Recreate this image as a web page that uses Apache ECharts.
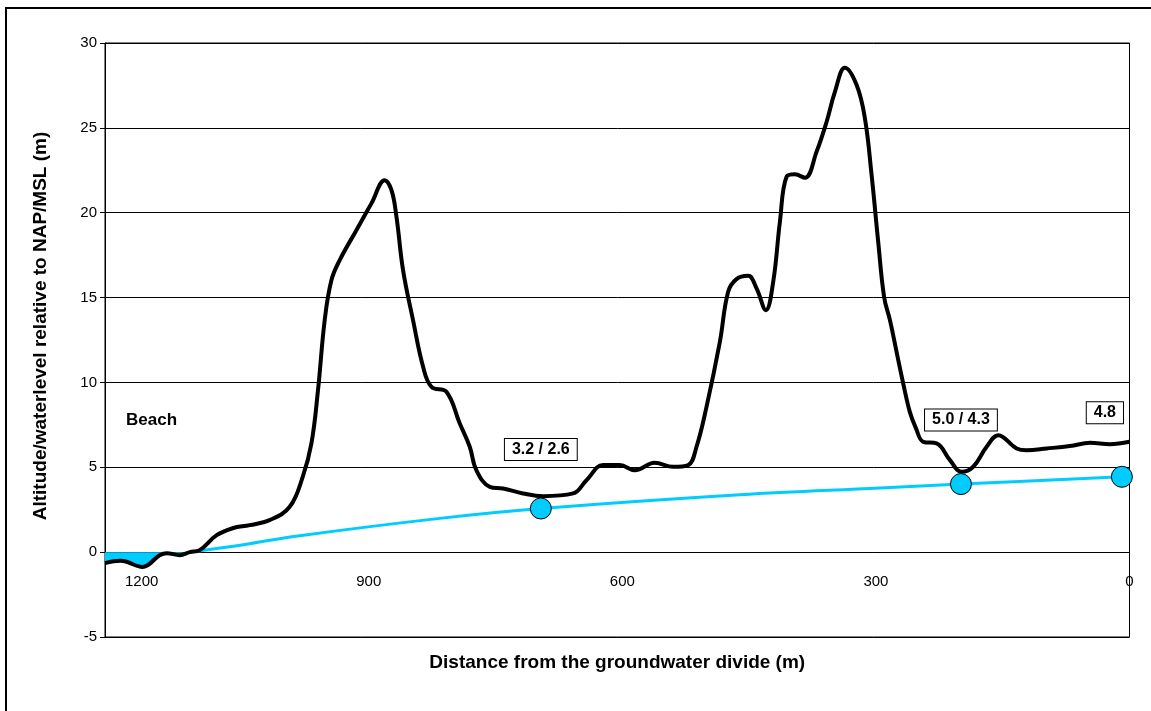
<!DOCTYPE html>
<html>
<head>
<meta charset="utf-8">
<script src="https://cdn.jsdelivr.net/npm/echarts@6/dist/echarts.min.js"></script>
<style>
html,body{margin:0;padding:0;background:#fff;}
#chart{width:1151px;height:711px;}
</style>
</head>
<body>
<div id="chart"></div>
<script>
// Terrain profile: distance from groundwater divide (m) and altitude (m NAP)
const terrainX = [1212,1193.5,1167.5,1147.3,1139,1123.7,1111.8,1100,1079.9,1061,1040.8,1017.2,993.5,978.1,967.8,960,952.1,944.1,934.3,914.6,896.8,881.1,873.1,867.2,859.4,847.6,835.7,825.8,808.1,792.3,780.5,772.7,756.8,741.1,717.4,693.7,658.2,642.4,622.7,603,585.2,561.5,539.9,522.1,512.2,500.4,484.6,474.8,464.9,451.1,441.2,430.2,421.5,413.6,405.7,395.9,384,370.2,358.3,348.5,336.7,322.8,313,305.1,297.3,290.2,283.4,275.5,267.7,259.8,252.7,244,228.2,212.4,198.6,184.9,169,155.3,133.5,121.7,98,70.4,46.7,23.1,0];
const terrainY = [-0.65,-0.51,-0.87,-0.18,-0.06,-0.18,0,0.12,1.0,1.41,1.59,1.89,2.67,4.44,6.41,9.55,13.67,16.03,17.21,18.97,20.55,21.92,21.33,19.76,16.62,13.67,10.92,9.74,9.45,7.58,6.21,4.83,3.85,3.75,3.46,3.30,3.46,4.24,5.13,5.13,4.83,5.26,5.03,5.13,6.21,8.56,12.39,15.34,16.09,16.28,15.54,14.26,15.93,19.46,22.12,22.26,22.06,23.59,25.36,27.12,28.54,27.52,25.56,22.22,18.29,15.0,13.67,11.79,9.94,8.25,7.31,6.50,6.41,5.42,4.73,5.03,6.21,6.89,6.11,6.01,6.11,6.25,6.44,6.36,6.5];
// Sea (below sea level) part of the profile
const seaX = [1212,1193.5,1167.5,1147.3,1139,1123.7,1111.8];
const seaY = [-0.65,-0.51,-0.87,-0.18,-0.06,-0.18,0];
// Groundwater level
const waterX = [1111.8,1040.8,981.7,816,696.4,461,295.3,199.4,9];
const waterY = [0,0.5,0.97,1.99,2.57,3.38,3.78,4.01,4.44];
// Measured points and their annotations
const pointX = [696.4,199.4,9];
const pointY = [2.57,4.01,4.44];
const pointLabels = ['3.2 / 2.6','5.0 / 4.3','4.8'];
const xTicks = [0,300,600,900,1200];
const yTicks = [-5,0,5,10,15,20,25,30];

const FONT = 'Liberation Sans, Arial, sans-serif';
const CYAN = '#00CCFF';
const LABEL_OFFSETS = [[0,-59],[0,-64],[-17,-64]];

const zip = (a,b) => a.map((v,i)=>[v,b[i]]);

const chart = echarts.init(document.getElementById('chart'), null, {renderer:'canvas'});
chart.setOption({
  animation:false,
  backgroundColor:'#fff',
  grid:{left:105,right:21.5,top:43,bottom:74,containLabel:false,outerBoundsMode:'none',
    show:true,borderColor:'#000',borderWidth:1,backgroundColor:'transparent'},
  graphic:[
    {type:'rect',shape:{x:6,y:8,width:1170,height:730},style:{fill:'none',stroke:'#000',lineWidth:2},silent:true,z:-1},
    {type:'text',left:126,top:412,style:{text:'Beach',font:'bold 17px '+FONT,fill:'#000'}}
  ],
  xAxis:{
    type:'value',inverse:true,min:0,max:1212,interval:300,
    offset:-84.9,
    axisLine:{onZero:false,lineStyle:{color:'#000',width:1}},
    axisTick:{show:false},
    splitLine:{show:false},
    axisLabel:{
      fontSize:15,color:'#000',fontFamily:FONT,margin:22,showMaxLabel:false,
      formatter:v=> xTicks.includes(v) ? (v===1200 ? '{s|1200}' : String(v)) : '',
      rich:{s:{fontSize:15,fontFamily:FONT,color:'#000',padding:[0,0,0,53]}}
    },
    name:'Distance from the groundwater divide (m)',
    nameLocation:'middle',nameGap:101,
    nameTextStyle:{fontSize:19,fontWeight:'bold',color:'#000',fontFamily:FONT}
  },
  yAxis:{
    type:'value',min:-5,max:30,interval:5,
    axisLine:{show:true,onZero:false,lineStyle:{color:'#000',width:1}},
    axisTick:{show:true,length:5,lineStyle:{color:'#000'}},
    splitLine:{show:true,lineStyle:{color:'#000',width:1}},
    axisLabel:{fontSize:15,color:'#000',fontFamily:FONT,margin:8,
      formatter:v=> yTicks.includes(v)? String(v):''},
    name:'Altitude/waterlevel relative to NAP/MSL (m)',
    nameLocation:'middle',nameGap:55,
    nameTextStyle:{fontSize:19,fontWeight:'bold',color:'#000',fontFamily:FONT,padding:[0,0,0,28]}
  },
  series:[
    {type:'line',name:'sea',data:zip(seaX,seaY),smooth:0.4,symbol:'none',
      lineStyle:{width:0},areaStyle:{color:CYAN,opacity:1,origin:0},z:2},
    {type:'line',name:'groundwater',data:zip(waterX,waterY),smooth:0.4,symbol:'none',
      lineStyle:{color:CYAN,width:3},z:3},
    {type:'line',name:'terrain',data:zip(terrainX,terrainY),smooth:0.4,symbol:'none',
      lineStyle:{color:'#000',width:4},z:4},
    {type:'scatter',name:'points',symbol:'circle',symbolSize:21,z:5,
      itemStyle:{color:CYAN,borderColor:'#000',borderWidth:1,opacity:1},
      data:pointX.map((x,i)=>({value:[x,pointY[i]],label:{show:true,position:'inside',offset:LABEL_OFFSETS[i],
        formatter:pointLabels[i],fontSize:16,fontWeight:'bold',color:'#000',fontFamily:FONT,
        backgroundColor:'#fff',borderColor:'#000',borderWidth:1,padding:[3,7,2,7]}}))
    }
  ]
});
</script>
</body>
</html>
